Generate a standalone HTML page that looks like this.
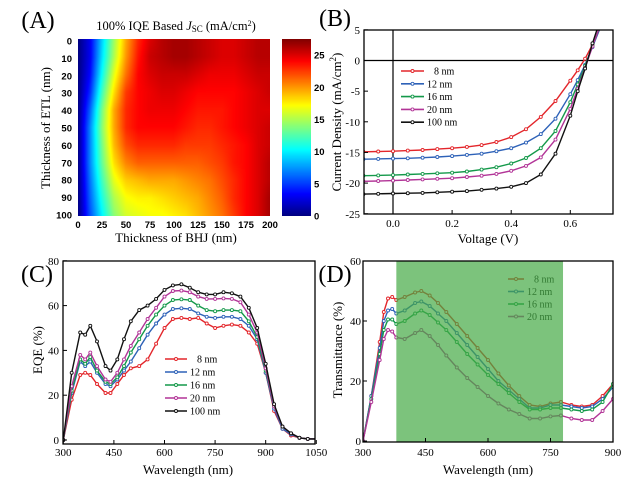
<!DOCTYPE html>
<html><head><meta charset="utf-8">
<style>
html,body{margin:0;padding:0;background:#fff;}
#wrap{position:relative;width:632px;height:483px;overflow:hidden;}
#hm{position:absolute;left:78px;top:39px;}
#cb{position:absolute;left:282px;top:39px;}
svg{position:absolute;left:0;top:0;}
.serif{font-family:"Liberation Serif",serif;}
.sans{font-family:"Liberation Sans",sans-serif;font-weight:bold;}
</style></head>
<body>
<div id="wrap">
<canvas id="hm" width="192" height="177"></canvas>
<canvas id="cb" width="29" height="177"></canvas>
<svg id="svg" width="632" height="483" xmlns="http://www.w3.org/2000/svg"></svg>
</div>
<script>
// ---------- Panel A data ----------
const hmBHJ = [0,12.5,25,37.5,50,62.5,75,87.5,100,112.5,125,137.5,150,162.5,175,187.5,200];
const hmETL = [0,10,20,30,40,50,60,70,80,90,100];
const hmRow0  = [0,3,9,14.5,19.5,23,25,26,26.5,26.5,26,25.5,25,25,25.5,26,26];
const hmRow10 = [0,3,9.5,15,20,23.5,25.5,26,26.5,26.5,26,25.5,25,25,25.5,26,26];
const hmRow20 = [0,3.5,10.5,16.5,21,24,25,25.5,25.5,25.5,25,24.5,24.5,24.5,25,25.5,25.5];
const hmRow30 = [0,4.5,12,18,22.5,24,24.5,25,25,24.5,24,24,24,24,24.5,25,25.5];
const hmRow40 = [0,6,13.5,19.5,23,24,24.5,24.5,24.5,24,23.5,23.5,23.5,24,24.5,25,25];
const hmRow50 = [0,7,14,19.5,23,24,24,24,24,23.5,23,23,23.5,24,24.5,25,25.5];
const hmRow60 = [0,7,13.5,19,22,23,23,23,23,22.5,22.5,22.5,23,23.5,24,25,25.5];
const hmRow70 = [0,7,13,18,20.5,21.5,21.5,21.5,21.5,21.5,21.5,22,22.5,23.5,24,25,26];
const hmRow80 = [0,6.5,12,16.5,18.5,19,19.5,19.5,19.5,20,20.5,21,22,23,24,25,26];
const hmRow90 = [0,6,11,15,17,17.5,17.5,18,18.5,19,19.5,20.5,21.5,23,24,25,26.5];
const hmRow100= [0,5.5,10,14,16,16.5,17,17,17.5,18,19,20,21,22.5,24,25,26.5];
const hmRows = [hmRow0,hmRow10,hmRow20,hmRow30,hmRow40,hmRow50,hmRow60,hmRow70,hmRow80,hmRow90,hmRow100];
const cbTicks = [0,5,10,15,20,25];
const aXTicks = [0,25,50,75,100,125,150,175,200];
const aYTicks = [0,10,20,30,40,50,60,70,80,90,100];

// ---------- Panel B data ----------
const jvV = [-0.1,-0.05,0,0.05,0.1,0.15,0.2,0.25,0.3,0.35,0.4,0.45,0.5,0.55,0.6,0.625,0.65,0.675,0.7];
const jv8   = [-14.9,-14.85,-14.8,-14.7,-14.6,-14.45,-14.3,-14.1,-13.8,-13.3,-12.5,-11.2,-9.2,-6.6,-3.3,-1.6,0.3,2.6,5.2];
const jv12  = [-16.1,-16.05,-16,-15.95,-15.85,-15.75,-15.6,-15.4,-15.2,-14.8,-14.3,-13.4,-12,-9.5,-5.5,-3.2,-0.7,2.2,5.2];
const jv16  = [-18.8,-18.75,-18.7,-18.6,-18.5,-18.4,-18.3,-18.1,-17.8,-17.4,-16.8,-15.9,-14.3,-11.5,-6.8,-3.9,-0.9,2.4,5.5];
const jv20  = [-19.7,-19.65,-19.6,-19.5,-19.4,-19.3,-19.2,-19.0,-18.8,-18.5,-18.0,-17.2,-15.8,-12.9,-7.9,-4.6,-1.2,2.3,5.6];
const jv100 = [-21.8,-21.75,-21.7,-21.65,-21.6,-21.5,-21.4,-21.3,-21.1,-20.9,-20.6,-20.0,-18.6,-15.2,-9.0,-5.0,-1.3,2.8,6.5];
const bXTicks = [0,0.2,0.4,0.6];
const bYTicks = [5,0,-5,-10,-15,-20,-25];

// ---------- Panel C data ----------
const eqeW = [300,325,350,365,380,400,425,440,460,480,500,525,550,575,600,625,650,675,700,725,750,775,800,825,850,875,900,925,950,975,1000,1025,1050];
const eqe100 = [0,30,48,47,51,44,33,31,36,45,53,58,60,63,67,69,69.5,68,66,65,65,66,65.5,64,59,50,34,16,6,3,1,0.5,0.5];
const eqe20  = [0,24,38,36,39,33,27,26,30,36,42,48,54,59,64,66.5,66.7,66,64,63,63,63.2,63,61.5,56,48,32,15,6,3,1,0.5,0.5];
const eqe16  = [0,22,36,34,37,31,26,25,28,33,39,45,51,56,60,62.5,62.8,62.5,60,58,57.5,58,58,57.5,53,46,31,15,6,3,1,0.5,0.5];
const eqe12  = [0,21,35,33,35,30,25,24,27,31,35,41,47,52,56,58.5,58.8,58.5,56.5,55,54.5,55,55,54,51,45,30,14,5,2.5,1,0.5,0.5];
const eqe8   = [0,18,29,30,29,25,21,21,25,29,32,33,36,43,50,54,54.5,54,54.5,52,50,51,51.5,51,48,43,30,13,5,2,1,0.5,0.5];
const cXTicks = [300,450,600,750,900,1050];
const cYTicks = [0,20,40,60,80];

// ---------- Panel D data ----------
const trW = [300,320,340,350,360,370,380,400,425,440,460,480,500,525,550,575,600,625,650,675,700,725,750,775,800,825,850,875,900];
const tr8  = [0,15,33,43,47.5,48,47,48,49.5,50,48.5,46,43,39,35,31,27,22.5,18.5,15,12,11.5,12.5,13,12,11.5,12,15,19];
const tr12 = [0,15,31,40,43.5,44,42.5,43.5,46,46.5,45,42.5,40,36,32,28,24,20,17,14,11,11,12,12,11.5,11,11.5,14,18];
const tr16 = [0,14,29,37,40.5,40.5,39,40,42.5,43.5,42,39.5,37,33,29,25.5,22,19,16,13,10.5,10.5,11,11,10.5,10,10.5,13,19];
const tr20 = [0,13,27,34,37,36.5,34.5,34,36,37,35,32,28.5,24.5,21,18,15,12.5,10.5,9,7.5,7.5,8.2,8.5,7.5,7,7,10,14];
const dBand = [380,780];
const dXTicks = [300,450,600,750,900];
const dYTicks = [0,20,40,60];

const COLORS = {c8:'#e3262b', c12:'#2e62b8', c16:'#14994a', c20:'#b23497', c100:'#111111'};
const NS = 'http://www.w3.org/2000/svg';
const svg = document.getElementById('svg');
function el(tag, attrs, parent){
  const e = document.createElementNS(NS, tag);
  for (const k in attrs) e.setAttribute(k, attrs[k]);
  (parent||svg).appendChild(e);
  return e;
}
function txt(s, x, y, cls, size, anchor, parent){
  const t = el('text', {x:x, y:y, 'font-size':size, 'text-anchor':anchor||'middle', class:cls}, parent);
  t.textContent = s;
  return t;
}

function jet(t){
  t = Math.max(0, Math.min(1, t));
  const r = Math.max(0, Math.min(1, 1.5 - Math.abs(4*t - 3)));
  const g = Math.max(0, Math.min(1, 1.5 - Math.abs(4*t - 2)));
  const b = Math.max(0, Math.min(1, 1.5 - Math.abs(4*t - 1)));
  return [r*255, g*255, b*255];
}
const CMAX = 27.5;

// ---------- Panel A ----------
(function(){
  const cv = document.getElementById('hm'), ctx = cv.getContext('2d');
  const W = cv.width, H = cv.height, img = ctx.createImageData(W, H);
  const bMax = hmBHJ[hmBHJ.length-1], eMax = hmETL[hmETL.length-1];
  for (let py=0; py<H; py++){
    const e = (py+0.5)/H*eMax;
    let ri = 0; while (ri < hmETL.length-2 && hmETL[ri+1] < e) ri++;
    const fy = (e - hmETL[ri])/(hmETL[ri+1]-hmETL[ri]);
    for (let px=0; px<W; px++){
      const b = (px+0.5)/W*bMax;
      let ci = 0; while (ci < hmBHJ.length-2 && hmBHJ[ci+1] < b) ci++;
      const fx = (b - hmBHJ[ci])/(hmBHJ[ci+1]-hmBHJ[ci]);
      const v = (hmRows[ri][ci]*(1-fx)+hmRows[ri][ci+1]*fx)*(1-fy) + (hmRows[ri+1][ci]*(1-fx)+hmRows[ri+1][ci+1]*fx)*fy;
      const c = jet(v/CMAX), i = (py*W+px)*4;
      img.data[i]=c[0]; img.data[i+1]=c[1]; img.data[i+2]=c[2]; img.data[i+3]=255;
    }
  }
  ctx.putImageData(img,0,0);
  const cb = document.getElementById('cb'), c2 = cb.getContext('2d');
  for (let py=0; py<cb.height; py++){
    const c = jet(1 - (py+0.5)/cb.height);
    c2.fillStyle = 'rgb('+c.map(Math.round).join(',')+')';
    c2.fillRect(0,py,cb.width,1);
  }
  const g = el('g', {});
  
  
  const lbl = txt('(A)', 38, 28, 'serif', 24, 'middle', g);
  
  
  const ttl = el('text', {x:176, y:30, 'font-size':12.5, 'text-anchor':'middle', class:'serif'}, g);
  
  
  ttl.innerHTML = '100% IQE Based <tspan font-style="italic">J</tspan><tspan font-size="9" dy="2">SC</tspan><tspan dy="-2"> (mA/cm</tspan><tspan font-size="8" dy="-4">2</tspan><tspan dy="4">)</tspan>';
  const x0=78, x1=270;
  const xs = v => x0 + v/200*(x1-x0);
  const ys = v => 41 + v/100*(215-41);
  aXTicks.forEach(v=>{
    const t = txt(String(v), xs(v), 228, 'sans', 9.5, 'middle', g);
    
    
  });
  aYTicks.forEach(v=>{
    const t = txt(String(v), 72, ys(v)+3.5, 'sans', 9.5, 'end', g);
    
    
  });
  const cys = v => 216 - v/CMAX*177;
  cbTicks.forEach(v=>{
    const t = txt(String(v), 314, Math.min(cys(v)+3.5, 221), 'sans', 9.5, 'start', g);
    
    
  });
  const xt = txt('Thickness of BHJ (nm)', 176, 242, 'serif', 13, 'middle', g);
  
  
  const yt = txt('Thickness of ETL (nm)', 0, 0, 'serif', 13, 'middle', g);
  yt.setAttribute('transform', 'translate(50,128) rotate(-90)');
  
  
})();

function drawSeries(g, xsArr, ysArr, xs, ys, color, name, clip){
  const pts = xsArr.map((x,i)=>[xs(x), ys(ysArr[i])]);
  const p = el('polyline', {points: pts.map(q=>q[0].toFixed(1)+','+q[1].toFixed(1)).join(' '), fill:'none', stroke:color, 'stroke-width':1.4, 'clip-path':'url(#'+clip+')'}, g);
  
  
  pts.forEach(q=>{
    const c = el('circle', {cx:q[0].toFixed(1), cy:q[1].toFixed(1), r:1.5, fill:'#fff', stroke:color, 'stroke-width':0.9, 'clip-path':'url(#'+clip+')'}, g);
    
    
  });
}
function frame(g, x0,y0,x1,y1, name){
  const r = el('rect', {x:x0, y:y0, width:x1-x0, height:y1-y0, fill:'none', stroke:'#000', 'stroke-width':1.3}, g);
  
  
}
function clip(id, x0,y0,x1,y1){
  const defs = el('defs', {});
  const cp = el('clipPath', {id:id}, defs);
  el('rect', {x:x0, y:y0, width:x1-x0, height:y1-y0}, cp);
}
function legend(g, x, y, dy, labels, colors, lineW, name){
  labels.forEach((s,i)=>{
    const yy = y + i*dy;
    const l = el('line', {x1:x, y1:yy, x2:x+lineW, y2:yy, stroke:colors[i], 'stroke-width':1.6}, g);
    
    
    const c = el('circle', {cx:x+lineW/2, cy:yy, r:1.5, fill:'#fff', stroke:colors[i], 'stroke-width':0.9}, g);
    
    
    const t = txt(s, x+lineW+(s.length<5?10:3), yy+3.5, 'serif', 10, 'start', g);
    
    
  });
}
function ticks(g, x0,y0,x1,y1, xv, yv, xs, ys){
  xv.forEach(v=>{ el('line',{x1:xs(v),y1:y1,x2:xs(v),y2:y1-4,stroke:'#000','stroke-width':1},g); });
  yv.forEach(v=>{ el('line',{x1:x0,y1:ys(v),x2:x0+4,y2:ys(v),stroke:'#000','stroke-width':1},g); });
}

// ---------- Panel B ----------
(function(){
  const g = el('g', {});
  
  
  const x0=364, x1=613, y0=30, y1=214;
  const xs = v => 393 + v*295.5;
  const ys = v => 60.5 - v*6.13;
  clip('clipB', x0,y0,x1,y1);
  el('line', {x1:xs(0), y1:y0, x2:xs(0), y2:y1, stroke:'#000', 'stroke-width':1.2}, g);
  el('line', {x1:x0, y1:ys(0), x2:x1, y2:ys(0), stroke:'#000', 'stroke-width':1.2}, g);
  const series = [[jv8,'c8','jv-8nm'],[jv12,'c12','jv-12nm'],[jv16,'c16','jv-16nm'],[jv20,'c20','jv-20nm'],[jv100,'c100','jv-100nm']];
  series.forEach(s=>drawSeries(g, jvV, s[0], xs, ys, COLORS[s[1]], s[2], 'clipB'));
  frame(g, x0,y0,x1,y1, 'b-plot-frame');
  ticks(g, x0,y0,x1,y1, bXTicks, bYTicks, xs, ys);
  bXTicks.forEach(v=>{
    const t = txt(v.toFixed(1), xs(v), 227, 'serif', 11, 'middle', g);
    
    
  });
  bYTicks.forEach(v=>{
    const t = txt(String(v), 360, ys(v)+4, 'serif', 11, 'end', g);
    
    
  });
  legend(g, 401, 71, 12.8, ['8 nm','12 nm','16 nm','20 nm','100 nm'], [COLORS.c8,COLORS.c12,COLORS.c16,COLORS.c20,COLORS.c100], 23, 'b');
  const lbl = txt('(B)', 335, 26, 'serif', 24, 'middle', g);
  
  
  const xt = txt('Voltage (V)', 488, 243, 'serif', 13, 'middle', g);
  
  
  const yt = el('text', {'font-size':13, 'text-anchor':'middle', class:'serif', transform:'translate(341,122) rotate(-90)'}, g);
  yt.innerHTML = 'Current Density (mA/cm<tspan font-size="9" dy="-5">2</tspan><tspan dy="5">)</tspan>';
  
  
})();

// ---------- Panel C ----------
(function(){
  const g = el('g', {});
  
  
  const x0=63, x1=315, y0=261, y1=444;
  const xs = v => 63.3 + (v-300)*0.3373;
  const ys = v => 440 - v*2.24;
  clip('clipC', x0,y0,x1,y1);
  const series = [[eqe8,'c8','eqe-8nm'],[eqe12,'c12','eqe-12nm'],[eqe16,'c16','eqe-16nm'],[eqe20,'c20','eqe-20nm'],[eqe100,'c100','eqe-100nm']];
  series.forEach(s=>drawSeries(g, eqeW, s[0], xs, ys, COLORS[s[1]], s[2], 'clipC'));
  frame(g, x0,y0,x1,y1, 'c-plot-frame');
  ticks(g, x0,y0,x1,y1, cXTicks, cYTicks, xs, ys);
  cXTicks.forEach(v=>{
    const t = txt(String(v), xs(v), 456, 'serif', 11, 'middle', g);
    
    
  });
  cYTicks.forEach(v=>{
    const t = txt(String(v), 59, ys(v)+4, 'serif', 11, 'end', g);
    
    
  });
  legend(g, 165, 359, 13, ['8 nm','12 nm','16 nm','20 nm','100 nm'], [COLORS.c8,COLORS.c12,COLORS.c16,COLORS.c20,COLORS.c100], 22, 'c');
  const lbl = txt('(C)', 37, 282, 'serif', 24, 'middle', g);
  
  
  const xt = txt('Wavelength (nm)', 188, 474, 'serif', 13, 'middle', g);
  
  
  const yt = txt('EQE (%)', 0, 0, 'serif', 13, 'middle', g);
  yt.setAttribute('transform', 'translate(42,350) rotate(-90)');
  
  
})();

// ---------- Panel D ----------
(function(){
  const g = el('g', {});
  
  
  const x0=363, x1=613, y0=261, y1=442;
  const xs = v => 363 + (v-300)*0.4167;
  const ys = v => 441 - v*3.0;
  clip('clipD', x0,y0,x1,y1);
  const series = [[tr8,'c8','tr-8nm'],[tr12,'c12','tr-12nm'],[tr16,'c16','tr-16nm'],[tr20,'c20','tr-20nm']];
  series.forEach(s=>drawSeries(g, trW, s[0], xs, ys, COLORS[s[1]], s[2], 'clipD'));
  legend(g, 508, 279, 12.5, ['8 nm','12 nm','16 nm','20 nm'], [COLORS.c8,COLORS.c12,COLORS.c16,COLORS.c20], 16, 'd');
  const band = el('rect', {x:xs(dBand[0]), y:y0, width:xs(dBand[1])-xs(dBand[0]), height:y1-y0, fill:'rgb(69,169,69)', 'fill-opacity':0.7}, g);
  
  
  frame(g, x0,y0,x1,y1, 'd-plot-frame');
  ticks(g, x0,y0,x1,y1, dXTicks, dYTicks, xs, ys);
  dXTicks.forEach(v=>{
    const t = txt(String(v), xs(v), 456, 'serif', 11, 'middle', g);
    
    
  });
  dYTicks.forEach(v=>{
    const t = txt(String(v), 361, ys(v)+4, 'serif', 11, 'end', g);
    
    
  });
  const lbl = txt('(D)', 335, 282, 'serif', 24, 'middle', g);
  
  
  const xt = txt('Wavelength (nm)', 488, 474, 'serif', 13, 'middle', g);
  
  
  const yt = txt('Transmittance (%)', 0, 0, 'serif', 13, 'middle', g);
  yt.setAttribute('transform', 'translate(342,350) rotate(-90)');
  
  
})();
</script>
</body></html>
